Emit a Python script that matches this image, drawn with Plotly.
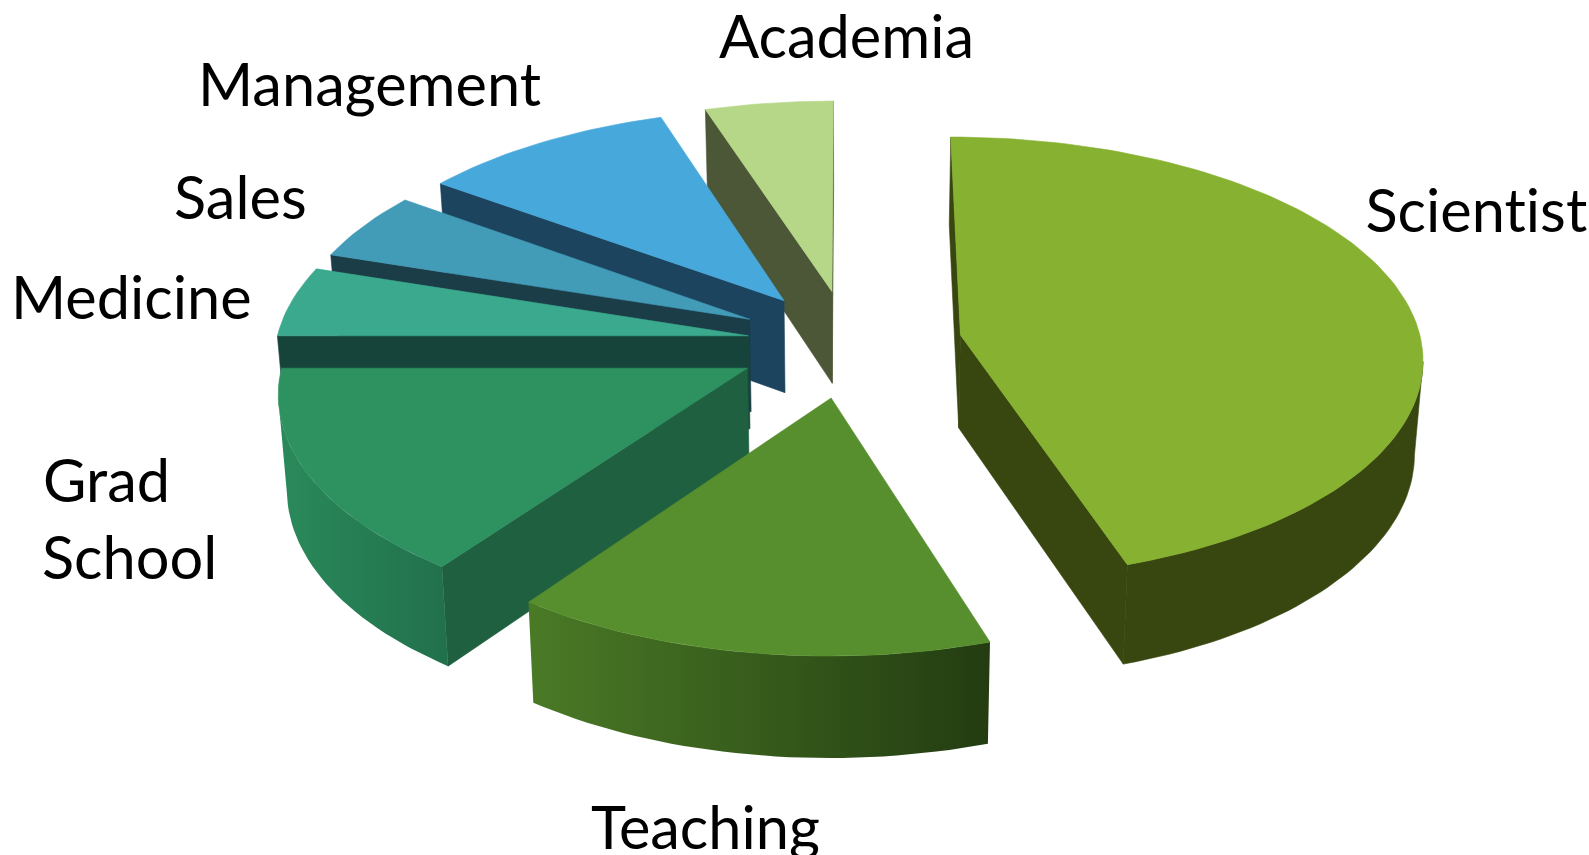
import numpy as np
import plotly.graph_objects as go

# Share of each slice, clockwise from 12 o'clock
categories = ["Scientist", "Teaching", "Grad School", "Medicine", "Sales", "Management", "Academia"]
values = [45, 15, 15, 5, 5, 10, 5]
pulls = [0.245, 0.245, 0.245, 0.222, 0.245, 0.245, 0.245]
radii = [1.0, 1.0, 1.0, 1.025, 1.0, 1.0, 1.0]

top_colors = ["#87B130", "#578F2E", "#2E9160", "#3BA98D", "#429BB7", "#47A8DB", "#B6D688"]
cut_colors = ["#38460F", "#38460F", "#1E6040", "#17443A", "#1B3D47", "#1C445E", "#4B5736"]
rim_colors = [("#38460F", "#38460F"), ("#4A7A26", "#233C11"), ("#2A8A5A", "#21704C"),
              ("#17443A", "#17443A"), ("#1B3D47", "#1B3D47"), ("#1C445E", "#1C445E"), ("#4B5736", "#4B5736")]

# Tilted-view projection of the pie plane into the picture
CX, CY, A, B, DEPTH, PX, PY, SHRINK = 838.0, 339.0, 455.0, 217.0, 92.0, 0.095, 0.102, 0.985
PAINT_ORDER = [6, 5, 4, 3, 2, 1, 0]


def project(u, v, z):
    u, v = np.asarray(u, float), np.asarray(v, float)
    scale = SHRINK if z else 1.0
    x = CX + scale * A * u / (1 + PX * v)
    y = CY + (scale * -B * v + z * DEPTH) / (1 + PY * v)
    return x, y


def poly(x, y, color, gradient=None):
    kw = dict(fillcolor=color)
    width = 0.6
    if gradient:
        width = 0
        kw = dict(fillgradient=dict(type="horizontal",
                                    colorscale=[[0, gradient[0]], [1, gradient[1]]]))
    return go.Scatter(x=np.r_[x, x[0]], y=np.r_[y, y[0]], mode="lines", fill="toself",
                      line=dict(color=color, width=width), hoverinfo="skip", showlegend=False, **kw)


def area(x, y):
    return 0.5 * np.sum(x * np.roll(y, -1) - np.roll(x, -1) * y)


fig = go.Figure()
edges = np.r_[0, np.cumsum(values)] / sum(values) * 2 * np.pi
for i in PAINT_ORDER:
    t0, t1 = edges[i], edges[i + 1]
    mid = (t0 + t1) / 2
    r = radii[i]
    ax, ay = pulls[i] * np.sin(mid), pulls[i] * np.cos(mid)
    t = np.linspace(t0, t1, max(int((t1 - t0) * 40), 8))
    # cut faces, only those turned towards the viewer
    for tt, sign in ((t0, -1), (t1, 1)):
        pu = np.array([ax, ax + r * np.sin(tt)])
        pv = np.array([ay, ay + r * np.cos(tt)])
        x0, y0 = project(pu, pv, 0)
        x1, y1 = project(pu, pv, 1)
        qx, qy = np.r_[x0, x1[::-1]], np.r_[y0, y1[::-1]]
        if area(qx, qy) * sign > 0:
            fig.add_trace(poly(qx, qy, cut_colors[i]))
    # rim, only on the near side, from the silhouette's widest point
    tr = t[np.cos(t) < -0.12]
    if tr.size > 1:
        ru, rv = ax + r * np.sin(tr), ay + r * np.cos(tr)
        x0, y0 = project(ru, rv, 0)
        x1, y1 = project(ru, rv, 1)
        c0, c1 = rim_colors[i]
        grad = (c0, c1) if c0 != c1 else None
        fig.add_trace(poly(np.r_[x0, x1[::-1]], np.r_[y0, y1[::-1]], c1, grad))
    # top
    ou, ov = ax + r * np.sin(t), ay + r * np.cos(t)
    x, y = project(np.r_[ax, ou], np.r_[ay, ov], 0)
    fig.add_trace(poly(x, y, top_colors[i]))

label_font = dict(family="Lato", size=59.5, color="#000000")
labels = [("Academia", 708, 35), ("Management", 193, 82), ("Sales", 170, 193), ("Medicine", 9, 292),
          ("Scientist", 1345, 206), ("Grad", 40, 473), ("School", 39, 549), ("Teaching", 581, 815)]
for text, lx, ly in labels:
    fig.add_annotation(x=lx, y=ly, text=text, showarrow=False, xanchor="left", yanchor="middle",
                       font=label_font)

fig.update_layout(width=1589, height=855, margin=dict(l=0, r=0, t=0, b=0),
                  paper_bgcolor="white", plot_bgcolor="white", showlegend=False,
                  xaxis=dict(range=[0, 1568], visible=False, fixedrange=True),
                  yaxis=dict(range=[844, 0], visible=False, fixedrange=True))
fig.write_html("out.html", config={"displayModeBar": False},
               post_script="document.body.style.margin='0';"
                           "var s=document.createElement('style');"
                           "s.textContent='text{font-variant-ligatures:none;text-rendering:optimizeSpeed}';"
                           "document.head.appendChild(s);")
